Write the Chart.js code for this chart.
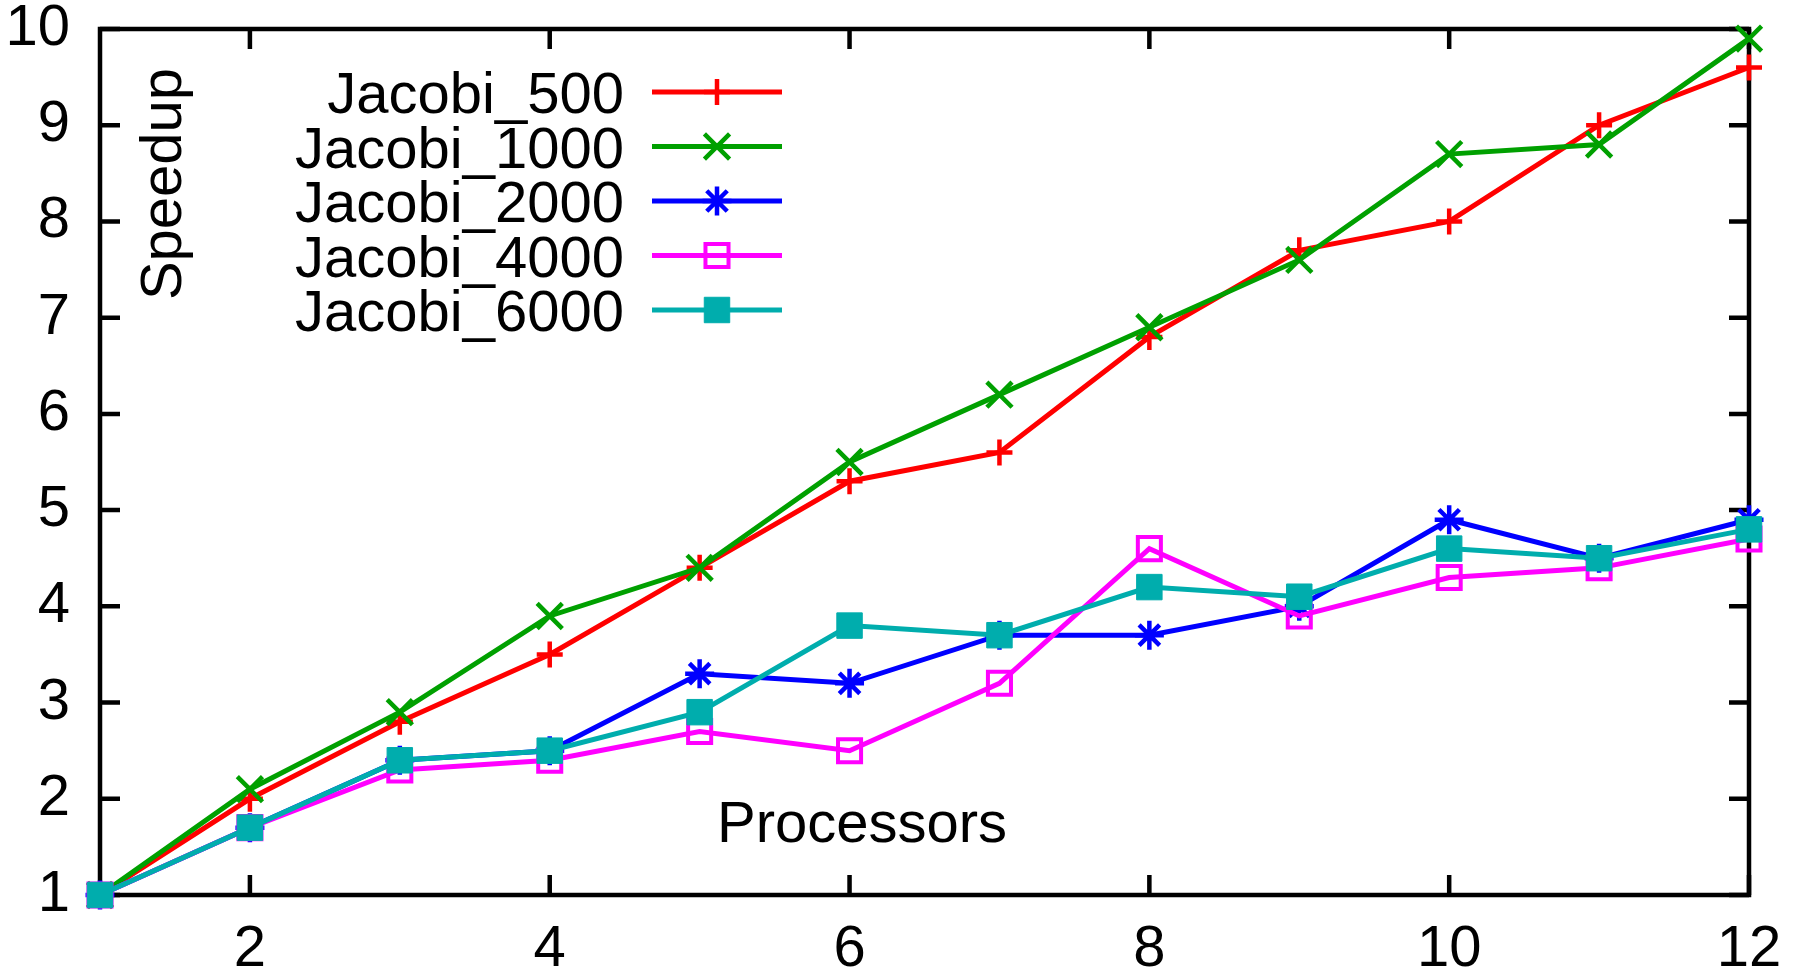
<!DOCTYPE html>
<html><head><meta charset="utf-8">
<script src="https://cdn.jsdelivr.net/npm/chart.js@4/dist/chart.umd.min.js"></script>
<style>html,body{margin:0;padding:0;background:#fff;overflow:hidden}#wrap{width:1796px;height:969px;position:relative}</style>
</head><body><div id="wrap"><canvas id="c" width="1796" height="969"></canvas></div>
<script>
const processors = [1, 2, 3, 4, 5, 6, 7, 8, 9, 10, 11, 12];
const jacobi500  = [1, 2.0, 2.8, 3.5, 4.4, 5.3, 5.6, 6.8, 7.7, 8.0, 9.0, 9.6];
const jacobi1000 = [1, 2.1, 2.9, 3.9, 4.4, 5.5, 6.2, 6.9, 7.6, 8.7, 8.8, 9.9];
const jacobi2000 = [1, 1.7, 2.4, 2.5, 3.3, 3.2, 3.7, 3.7, 4.0, 4.9, 4.5, 4.9];
const jacobi4000 = [1, 1.7, 2.3, 2.4, 2.7, 2.5, 3.2, 4.6, 3.9, 4.3, 4.4, 4.7];
const jacobi6000 = [1, 1.7, 2.4, 2.5, 2.9, 3.8, 3.7, 4.2, 4.1, 4.6, 4.5, 4.8];
const seriesNames = ['Jacobi_500', 'Jacobi_1000', 'Jacobi_2000', 'Jacobi_4000', 'Jacobi_6000'];
const xTickValues = [2, 4, 6, 8, 10, 12];
const yTickValues = [1, 2, 3, 4, 5, 6, 7, 8, 9, 10];
const xTitle = 'Processors';
const yTitle = 'Speedup';

const FONT = 'Liberation Sans, Arial, Helvetica, sans-serif';
const FS = 58;

const seriesValues = [jacobi500, jacobi1000, jacobi2000, jacobi4000, jacobi6000];
const styles = [
  {color: '#ff0000', pointStyle: 'cross',    radius: 13,  pbw: 4.5, fill: '#ff0000'},
  {color: '#00a000', pointStyle: 'crossRot', radius: 17.8, pbw: 4.5, fill: '#00a000'},
  {color: '#0000ff', pointStyle: 'star',     radius: 14.5, pbw: 4.5, fill: '#0000ff'},
  {color: '#ff00ff', pointStyle: 'rect',     radius: 16.3, pbw: 4, fill: 'rgba(0,0,0,0)'},
  {color: '#00adad', pointStyle: 'rect',     radius: 18,  pbw: 1, fill: '#00adad'}
];

const datasets = seriesValues.map((vals, i) => ({
  label: seriesNames[i],
  data: processors.map((p, j) => ({x: p, y: vals[j]})),
  borderColor: styles[i].color,
  backgroundColor: styles[i].fill,
  borderWidth: 5,
  pointStyle: styles[i].pointStyle,
  pointRadius: styles[i].radius,
  pointHoverRadius: styles[i].radius,
  pointBorderWidth: styles[i].pbw,
  pointBorderColor: styles[i].color,
  pointBackgroundColor: styles[i].fill,
  tension: 0,
  fill: false,
  clip: false,
  order: seriesValues.length - 1 - i
}));

const framePlugin = {
  id: 'frame',
  beforeDatasetsDraw(chart) {
    const {ctx, chartArea: a, scales} = chart;
    ctx.save();
    ctx.strokeStyle = '#000';
    ctx.lineWidth = 4.5;
    ctx.lineCap = 'butt';
    ctx.beginPath();
    const tl = 20;
    scales.x.ticks.forEach(t => {
      const px = scales.x.getPixelForValue(t.value);
      ctx.moveTo(px, a.bottom); ctx.lineTo(px, a.bottom - tl);
      ctx.moveTo(px, a.top); ctx.lineTo(px, a.top + tl);
    });
    scales.y.ticks.forEach(t => {
      const py = scales.y.getPixelForValue(t.value);
      ctx.moveTo(a.left, py); ctx.lineTo(a.left + tl, py);
      ctx.moveTo(a.right, py); ctx.lineTo(a.right - tl, py);
    });
    ctx.stroke();
    ctx.lineJoin = 'miter';
    ctx.strokeRect(a.left, a.top, a.right - a.left, a.bottom - a.top);
    ctx.restore();
  },
  afterDraw(chart) {
    const {ctx} = chart;
    ctx.save();
    ctx.fillStyle = '#000';
    ctx.font = FS + 'px ' + FONT;
    // legend
    const rowY0 = 92, rowDy = 54.5;
    chart.data.datasets.forEach((ds, i) => {
      const y = rowY0 + i * rowDy;
      ctx.textAlign = 'right';
      ctx.textBaseline = 'alphabetic';
      ctx.fillStyle = '#000';
      ctx.fillText(ds.label, 624, y + 21);
      ctx.strokeStyle = ds.borderColor;
      ctx.lineWidth = ds.borderWidth;
      ctx.beginPath();
      ctx.moveTo(652, y); ctx.lineTo(782, y);
      ctx.stroke();
      ctx.fillStyle = ds.pointBackgroundColor;
      ctx.strokeStyle = ds.pointBorderColor;
      ctx.lineWidth = ds.pointBorderWidth;
      Chart.helpers.drawPoint(ctx, {pointStyle: ds.pointStyle, radius: ds.pointRadius, rotation: 0, borderWidth: ds.pointBorderWidth}, 717, y);
    });
    // axis titles
    ctx.fillStyle = '#000';
    ctx.textAlign = 'center';
    ctx.textBaseline = 'alphabetic';
    ctx.fillText(xTitle, 862, 842);
    ctx.translate(181, 184);
    ctx.rotate(-Math.PI / 2);
    ctx.fillText(yTitle, 0, 0);
    ctx.restore();
  }
};

new Chart(document.getElementById('c'), {
  type: 'line',
  data: {datasets},
  plugins: [framePlugin],
  options: {
    responsive: false,
    animation: false,
    devicePixelRatio: 1,
    layout: {padding: {top: 29, right: 47, left: 0, bottom: 0}},
    plugins: {legend: {display: false}, tooltip: {enabled: false}},
    events: [],
    scales: {
      x: {
        type: 'linear', min: 1, max: 12,
        afterBuildTicks: s => { s.ticks = xTickValues.map(v => ({value: v})); },
        afterFit: s => { s.height = 74; s.paddingLeft = 0; s.paddingRight = 0; s.paddingTop = 0; s.paddingBottom = 0; },
        grid: {display: false, drawTicks: false},
        border: {display: false},
        ticks: {padding: 20, color: '#000', font: {family: FONT, size: FS}, maxRotation: 0, autoSkip: false}
      },
      y: {
        type: 'linear', min: 1, max: 10,
        afterBuildTicks: s => { s.ticks = yTickValues.map(v => ({value: v})); },
        afterFit: s => { s.width = 100; s.paddingLeft = 0; s.paddingRight = 0; s.paddingTop = 0; s.paddingBottom = 0; },
        grid: {display: false, drawTicks: false},
        border: {display: false},
        ticks: {padding: 30, color: '#000', font: {family: FONT, size: FS}, autoSkip: false}
      }
    }
  }
});
</script>
</body></html>
